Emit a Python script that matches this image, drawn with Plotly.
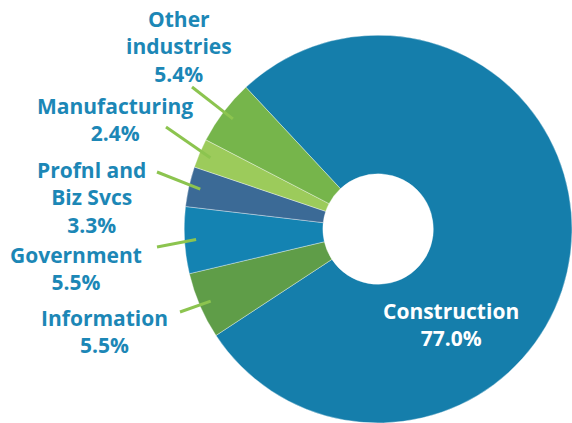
import math
import plotly.graph_objects as go

# ---- data ----
industries = ["Construction", "Information", "Government", "Profnl and Biz Svcs",
              "Manufacturing", "Other industries"]
shares = [77.0, 5.5, 5.5, 3.3, 2.4, 5.4]
label_texts = ["Construction<br>77.0%", "Information<br>5.5%", "Government<br>5.5%",
               "Profnl and<br>Biz Svcs<br>3.3%", "Manufacturing<br>2.4%",
               "Other<br>industries<br>5.4%"]

# ---- styles / positions ----
W, H = 572, 423
colors = ["#157eab", "#5f9d48", "#1483b2", "#3b6a96", "#9ccb5b", "#76b54b"]
label_color = "#1c87b6"
leader_color = "#8cc44f"
rotation = -43  # clockwise degrees from 12 o'clock where first slice starts
dom_x = [0.322, 1.0]
dom_y = [0.0, 0.917]
hole = 0.285

# label block centers (px) and leader outer ends (px)
label_pos = [(451, 324), (104, 331), (76, 268), (91, 197), (115, 120), (179, 46)]
leader_outer = [None, (180, 312), (157, 247), (157, 172), (166, 127), (192, 87)]

fig = go.Figure(go.Pie(
    labels=industries, values=shares, sort=False, direction="clockwise",
    rotation=rotation, hole=hole, textinfo="none", hoverinfo="label+value",
    marker=dict(colors=colors, line=dict(color="rgba(255,255,255,0.6)", width=0.6)),
    domain=dict(x=dom_x, y=dom_y), showlegend=False,
))

# pie geometry in pixels (same rule plotly uses: radius = min(w, h)/2)
dw = (dom_x[1] - dom_x[0]) * W
dh = (dom_y[1] - dom_y[0]) * H
R = min(dw, dh) / 2
cx = (dom_x[0] + dom_x[1]) / 2 * W
cy = H - (dom_y[0] + dom_y[1]) / 2 * H

total = sum(shares)
start = rotation  # clockwise angle from 12 o'clock
shapes = []
annotations = []
for i, v in enumerate(shares):
    span = v / total * 360
    mid = start + span / 2
    start += span
    a = math.radians(mid)
    ix = cx + 0.94 * R * math.sin(a)
    iy = cy - 0.94 * R * math.cos(a)
    if leader_outer[i] is not None:
        ox, oy = leader_outer[i]
        shapes.append(dict(type="line", xref="paper", yref="paper",
                           x0=ox / W, y0=1 - oy / H, x1=ix / W, y1=1 - iy / H,
                           line=dict(color=leader_color, width=3)))
    lx, ly = label_pos[i]
    annotations.append(dict(
        x=lx / W, y=1 - ly / H, xref="paper", yref="paper", showarrow=False,
        text="<b>" + label_texts[i] + "</b>", align="center",
        xanchor="center", yanchor="middle",
        font=dict(family="Open Sans", size=21,
                  color="white" if i == 0 else label_color)))

fig.update_layout(
    width=W, height=H, margin=dict(l=0, r=0, t=0, b=0),
    paper_bgcolor="white", plot_bgcolor="white",
    shapes=shapes, annotations=annotations,
)
fig.write_html("out.html", config={"displayModeBar": False},
               post_script="document.body.style.margin='0';document.body.style.overflow='hidden';")
